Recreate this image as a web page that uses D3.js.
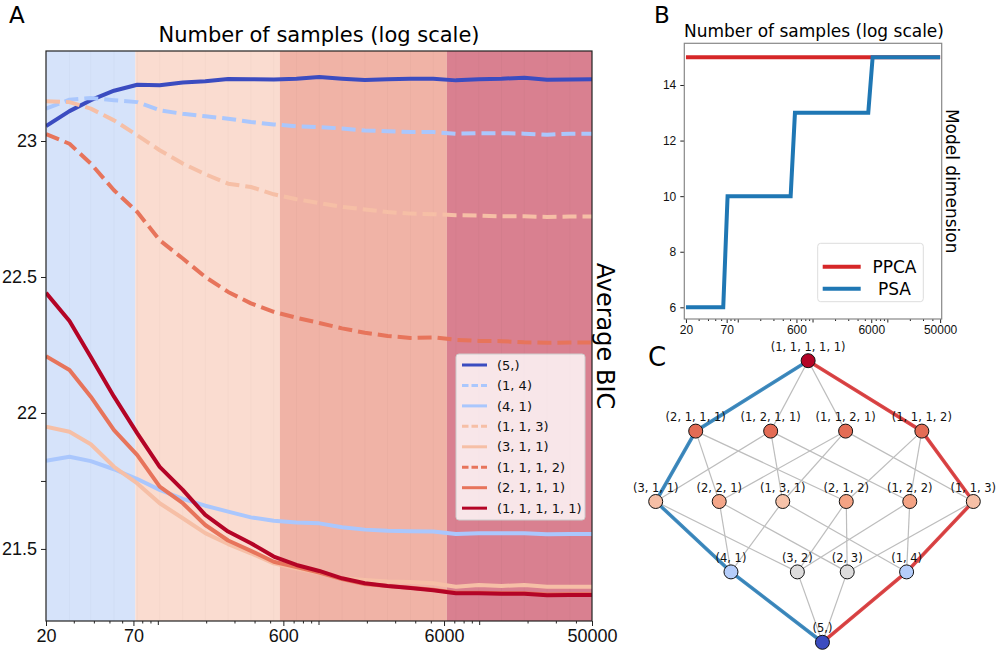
<!DOCTYPE html>
<html lang="en">
<head>
<meta charset="UTF-8">
<title>Average BIC and model dimension</title>
<script src="https://d3js.org/d3.v7.min.js"></script>
<style>
  body { margin: 0; background: #fff; }
  svg { display: block; font-family: "DejaVu Sans", sans-serif; }
  .tick text { fill: #111; }
  .tick line { stroke: #222; }
</style>
</head>
<body>
<div id="chart"></div>
<script>
// ---------- panel A: average BIC per flag type ----------
const samples = [20, 28, 38, 53, 74, 102, 142, 196, 272, 377, 523, 724, 1004, 1391, 1929,
                 2673, 3705, 5135, 7117, 9864, 13672, 18950, 26264, 36402, 50000];
const bandEdges = [20, 72, 570, 6250, 50000];

const bic5 = [23.055, 23.11, 23.15, 23.185, 23.207, 23.205, 23.215, 23.22, 23.228, 23.227, 23.226, 23.229, 23.235,
              23.229, 23.224, 23.227, 23.229, 23.229, 23.223, 23.227, 23.229, 23.233, 23.225, 23.226, 23.227];
const bic14 = [23.119, 23.152, 23.158, 23.15, 23.143, 23.113, 23.10, 23.091, 23.082, 23.07, 23.061, 23.054, 23.051,
               23.046, 23.039, 23.036, 23.033, 23.033, 23.027, 23.029, 23.029, 23.027, 23.023, 23.027, 23.027];
const bic41 = [21.824, 21.839, 21.823, 21.793, 21.757, 21.717, 21.684, 21.659, 21.637, 21.616, 21.604, 21.597, 21.594,
               21.58, 21.571, 21.567, 21.565, 21.564, 21.555, 21.558, 21.558, 21.558, 21.554, 21.555, 21.555];
const bic113 = [23.146, 23.143, 23.119, 23.076, 23.021, 22.966, 22.917, 22.878, 22.843, 22.831, 22.804, 22.786, 22.772,
                22.758, 22.748, 22.739, 22.733, 22.731, 22.727, 22.726, 22.723, 22.723, 22.721, 22.722, 22.722];
const bic311 = [21.949, 21.931, 21.885, 21.802, 21.741, 21.668, 21.613, 21.558, 21.518, 21.484, 21.447, 21.428, 21.411,
                21.392, 21.386, 21.38, 21.378, 21.374, 21.361, 21.367, 21.364, 21.367, 21.361, 21.361, 21.361];
const bic1112 = [23.025, 22.99, 22.917, 22.819, 22.739, 22.635, 22.568, 22.50, 22.445, 22.403, 22.372, 22.35, 22.331,
                 22.311, 22.295, 22.283, 22.276, 22.278, 22.269, 22.265, 22.264, 22.26, 22.258, 22.259, 22.259];
const bic2111 = [22.209, 22.158, 22.06, 21.937, 21.845, 21.729, 21.668, 21.588, 21.531, 21.493, 21.453, 21.433, 21.413,
                 21.389, 21.371, 21.364, 21.357, 21.35, 21.339, 21.339, 21.337, 21.337, 21.332, 21.333, 21.333];
const bic11111 = [22.442, 22.338, 22.206, 22.06, 21.925, 21.802, 21.717, 21.625, 21.564, 21.521, 21.472, 21.441, 21.419,
                  21.392, 21.374, 21.364, 21.356, 21.348, 21.337, 21.337, 21.335, 21.335, 21.33, 21.331, 21.331];

const seriesNames = ["(5,)", "(1, 4)", "(4, 1)", "(1, 1, 3)", "(3, 1, 1)", "(1, 1, 1, 2)", "(2, 1, 1, 1)", "(1, 1, 1, 1, 1)"];
const seriesValues = [bic5, bic14, bic41, bic113, bic311, bic1112, bic2111, bic11111];

const xTicks = [20, 70, 600, 6000, 50000];
const yTicksA = [21.5, 21.75, 22, 22.5, 23];

// ---------- panel B: model dimension ----------
const psaSamples = [20, 63, 72, 502, 573, 5475, 6265, 50000];
const psaDim = [6, 6, 10, 10, 13, 13, 15, 15];
const ppcaSamples = [20, 50000];
const ppcaDim = [15, 15];
const yTicksB = [6, 8, 10, 12, 14];

// ---------- panel C: hierarchy of flag types ----------
const nodeTypes = [[1,1,1,1,1],
                   [2,1,1,1], [1,2,1,1], [1,1,2,1], [1,1,1,2],
                   [3,1,1], [2,2,1], [1,3,1], [2,1,2], [1,2,2], [1,1,3],
                   [4,1], [3,2], [2,3], [1,4],
                   [5]];
// horizontal place of each node in layout units (0-100), same order as nodeTypes
const nodeSlot = [48, 12.6, 36.2, 59.8, 83.8, 0, 20, 40, 60, 80, 100, 23.7, 44.6, 60.3, 79, 52.5];
const bluePath = ["(1, 1, 1, 1, 1)", "(2, 1, 1, 1)", "(3, 1, 1)", "(4, 1)", "(5,)"];
const redPath = ["(1, 1, 1, 1, 1)", "(1, 1, 1, 2)", "(1, 1, 3)", "(1, 4)", "(5,)"];

// ---------- styles ----------
const lineColor = {
  "(5,)": "#3b4cc0", "(1, 4)": "#aac7fd", "(4, 1)": "#aac7fd",
  "(1, 1, 3)": "#f6bfa6", "(3, 1, 1)": "#f6bfa6",
  "(1, 1, 1, 2)": "#e7745b", "(2, 1, 1, 1)": "#e7745b", "(1, 1, 1, 1, 1)": "#b40426"
};
const dashed = {"(1, 4)": true, "(1, 1, 3)": true, "(1, 1, 1, 2)": true};
const nodeColor = {
  "(1, 1, 1, 1, 1)": "#b40426",
  "(2, 1, 1, 1)": "#e36c55", "(1, 2, 1, 1)": "#e36c55", "(1, 1, 2, 1)": "#e36c55", "(1, 1, 1, 2)": "#e36c55",
  "(3, 1, 1)": "#f6bfa6", "(2, 2, 1)": "#f4a689", "(1, 3, 1)": "#f6c2a9",
  "(2, 1, 2)": "#f4a384", "(1, 2, 2)": "#f4a384", "(1, 1, 3)": "#f6bfa6",
  "(4, 1)": "#b5cdfa", "(3, 2)": "#dddcdc", "(2, 3)": "#dddcdc", "(1, 4)": "#b5cdfa",
  "(5,)": "#3b4cc0"
};
const bandColors = ["#d6e3fa", "#fadcd0", "#f0b3a6", "#d98090"];

const fmtType = p => p.length === 1 ? "(" + p[0] + ",)" : "(" + p.join(", ") + ")";

const svg = d3.select("#chart").append("svg")
    .attr("width", 996)
    .attr("height", 650);

function minorTicks(lo, hi) {
  const out = [];
  for (let dec = 10; dec <= 10000; dec *= 10) {
    for (let m = 1; m <= 9; m++) {
      const v = m * dec;
      if (v > lo && v < hi && !xTicks.includes(v)) out.push(v);
    }
  }
  return out;
}

// ================= panel A =================
const A = {left: 46, right: 592, top: 51, bottom: 621};
const xA = d3.scaleLog().domain([20, 50000]).range([A.left, A.right]);
const yA = d3.scaleLinear().domain([21.235, 23.331]).range([A.bottom, A.top]);

const gA = svg.append("g");

gA.append("g").selectAll("rect")
  .data(d3.pairs(bandEdges))
  .enter().append("rect")
    .attr("x", d => xA(d[0]))
    .attr("y", A.top)
    .attr("width", d => xA(d[1]) - xA(d[0]))
    .attr("height", A.bottom - A.top)
    .attr("fill", (d, i) => bandColors[i]);

// faint sample grid inside the bands
gA.append("g").selectAll("line")
  .data(samples.slice(1, -1))
  .enter().append("line")
    .attr("x1", d => xA(d)).attr("x2", d => xA(d))
    .attr("y1", A.top).attr("y2", A.bottom)
    .attr("stroke", "#000").attr("stroke-opacity", 0.025);

svg.append("clipPath").attr("id", "clipA")
  .append("rect").attr("x", A.left).attr("y", A.top)
  .attr("width", A.right - A.left).attr("height", A.bottom - A.top);

const lineA = d3.line().x(d => xA(d[0])).y(d => yA(d[1]));

gA.append("g").attr("clip-path", "url(#clipA)")
  .selectAll("path")
  .data(seriesNames)
  .enter().append("path")
    .attr("d", (name, i) => lineA(d3.zip(samples, seriesValues[i])))
    .attr("fill", "none")
    .attr("stroke", name => lineColor[name])
    .attr("stroke-width", 4)
    .attr("stroke-linejoin", "round")
    .attr("stroke-dasharray", name => dashed[name] ? "14,6" : null);

// axes
const axA_left = gA.append("g")
    .attr("transform", `translate(${A.left},0)`)
    .call(d3.axisLeft(yA).tickValues(yTicksA).tickSize(5).tickPadding(4)
      .tickFormat(d => d === 21.75 ? "" : d3.format("~g")(d)));
axA_left.select(".domain").remove();
axA_left.selectAll("text").style("font-size", "18px");

const axA_bottom = gA.append("g")
    .attr("transform", `translate(0,${A.bottom})`)
    .call(d3.axisBottom(xA).tickValues(xTicks).tickSize(5).tickPadding(3).tickFormat(d3.format("d")));
axA_bottom.select(".domain").remove();
axA_bottom.selectAll("text").style("font-size", "18px");

gA.append("g").selectAll("line")
  .data(minorTicks(20, 50000))
  .enter().append("line")
    .attr("x1", d => xA(d)).attr("x2", d => xA(d))
    .attr("y1", A.bottom)
    .attr("y2", d => A.bottom + (Math.log10(d) % 1 === 0 ? 4 : 2.5))
    .attr("stroke", "#222");

gA.append("rect")
  .attr("x", A.left).attr("y", A.top)
  .attr("width", A.right - A.left).attr("height", A.bottom - A.top)
  .attr("fill", "none").attr("stroke", "#222").attr("stroke-width", 1.2);

gA.append("text")
  .attr("x", (A.left + A.right) / 2).attr("y", 42)
  .attr("text-anchor", "middle")
  .style("font-size", "21px")
  .text("Number of samples (log scale)");

gA.append("text")
  .attr("transform", `translate(597,${(A.top + A.bottom) / 2}) rotate(90)`)
  .attr("text-anchor", "middle")
  .style("font-size", "24px")
  .text("Average BIC");

gA.append("text").attr("x", 9).attr("y", 23).style("font-size", "23px").text("A");

// legend A
const legA = gA.append("g").attr("transform", "translate(456,354)");
legA.append("rect")
  .attr("width", 129).attr("height", 166).attr("rx", 3)
  .attr("fill", "#fff").attr("fill-opacity", 0.8)
  .attr("stroke", "#ccc");
const legRows = legA.selectAll("g.row")
  .data(seriesNames)
  .enter().append("g")
    .attr("class", "row")
    .attr("transform", (d, i) => `translate(0,${11 + i * 20.45})`);
legRows.append("line")
  .attr("x1", 6).attr("x2", 31)
  .attr("stroke", d => lineColor[d])
  .attr("stroke-width", 3)
  .attr("stroke-dasharray", d => dashed[d] ? "6.5,3" : null);
legRows.append("text")
  .attr("x", 41).attr("y", 4.6)
  .style("font-size", "13px")
  .attr("fill", "#111")
  .text(d => d);

// ================= panel B =================
const B = {left: 684.3, right: 941.7, top: 43.3, bottom: 319};
const xB = d3.scaleLog().domain([19, 52500]).range([B.left, B.right]);
const yB = d3.scaleLinear().domain([5.58, 15.5]).range([B.bottom, B.top]);
const gB = svg.append("g");

const lineB = d3.line().x(d => xB(d[0])).y(d => yB(d[1]));
gB.append("path")
  .attr("d", lineB(d3.zip(ppcaSamples, ppcaDim)))
  .attr("fill", "none").attr("stroke", "#d62728").attr("stroke-width", 4);
gB.append("path")
  .attr("d", lineB(d3.zip(psaSamples, psaDim)))
  .attr("fill", "none").attr("stroke", "#1f77b4").attr("stroke-width", 4);

const axB_left = gB.append("g")
    .attr("transform", `translate(${B.left},0)`)
    .call(d3.axisLeft(yB).tickValues(yTicksB).tickSize(4).tickPadding(4));
axB_left.select(".domain").remove();
axB_left.selectAll("text").style("font-size", "12px");

const axB_bottom = gB.append("g")
    .attr("transform", `translate(0,${B.bottom})`)
    .call(d3.axisBottom(xB).tickValues(xTicks).tickSize(4).tickPadding(2).tickFormat(d3.format("d")));
axB_bottom.select(".domain").remove();
axB_bottom.selectAll("text").style("font-size", "12px");

gB.append("g").selectAll("line")
  .data(minorTicks(19, 52500))
  .enter().append("line")
    .attr("x1", d => xB(d)).attr("x2", d => xB(d))
    .attr("y1", B.bottom)
    .attr("y2", d => B.bottom + (Math.log10(d) % 1 === 0 ? 3.5 : 2))
    .attr("stroke", "#222");

gB.append("rect")
  .attr("x", B.left).attr("y", B.top)
  .attr("width", B.right - B.left).attr("height", B.bottom - B.top)
  .attr("fill", "none").attr("stroke", "#888").attr("stroke-width", 1.2);

gB.append("text")
  .attr("x", (B.left + B.right) / 2 + 1).attr("y", 37)
  .attr("text-anchor", "middle")
  .style("font-size", "17px")
  .text("Number of samples (log scale)");

gB.append("text")
  .attr("transform", `translate(946,${(B.top + B.bottom) / 2}) rotate(90)`)
  .attr("text-anchor", "middle")
  .style("font-size", "17px")
  .text("Model dimension");

gB.append("text").attr("x", 654).attr("y", 23).style("font-size", "23px").text("B");

const legB = gB.append("g").attr("transform", "translate(817.7,243.3)");
legB.append("rect")
  .attr("width", 105.6).attr("height", 58.4).attr("rx", 3)
  .attr("fill", "#fff").attr("stroke", "#ddd");
[["PPCA", "#d62728"], ["PSA", "#1f77b4"]].forEach(([label, col], i) => {
  const y = 23.4 + i * 22;
  legB.append("line").attr("x1", 5).attr("x2", 43).attr("y1", y).attr("y2", y)
    .attr("stroke", col).attr("stroke-width", 4);
  legB.append("text").attr("x", 76.8).attr("y", y + 6)
    .attr("text-anchor", "middle").style("font-size", "17px").text(label);
});

// ================= panel C =================
const nodes = nodeTypes.map((p, i) => ({
  parts: p, label: fmtType(p), level: 5 - p.length, slot: nodeSlot[i]
}));
const byLabel = new Map(nodes.map(n => [n.label, n]));

// an edge joins a type to each type made by merging two neighbouring parts
const edges = [];
nodes.forEach(n => {
  for (let i = 0; i < n.parts.length - 1; i++) {
    const merged = n.parts.slice(0, i).concat([n.parts[i] + n.parts[i + 1]], n.parts.slice(i + 2));
    edges.push([n, byLabel.get(fmtType(merged))]);
  }
});

const xC = d3.scaleLinear().domain([0, 100]).range([655.7, 973.3]);
const yC = d3.scaleLinear().domain([0, 4]).range([360.7, 642.3]);
const gC = svg.append("g");

gC.append("g").selectAll("line")
  .data(edges)
  .enter().append("line")
    .attr("x1", d => xC(d[0].slot)).attr("y1", d => yC(d[0].level))
    .attr("x2", d => xC(d[1].slot)).attr("y2", d => yC(d[1].level))
    .attr("stroke", "#bdbdbd").attr("stroke-width", 1.2);

const pathLine = d3.line().x(d => xC(byLabel.get(d).slot)).y(d => yC(byLabel.get(d).level));
gC.append("path").attr("d", pathLine(bluePath))
  .attr("fill", "none").attr("stroke", "#1f77b4").attr("stroke-opacity", 0.85).attr("stroke-width", 3.6);
gC.append("path").attr("d", pathLine(redPath))
  .attr("fill", "none").attr("stroke", "#d62728").attr("stroke-opacity", 0.85).attr("stroke-width", 3.6);

gC.append("g").selectAll("text")
  .data(nodes)
  .enter().append("text")
    .attr("x", d => xC(d.slot))
    .attr("y", d => yC(d.level) - 10)
    .attr("text-anchor", "middle")
    .style("font-size", "11.5px")
    .attr("fill", "#111")
    .text(d => d.label);

gC.append("g").selectAll("circle")
  .data(nodes)
  .enter().append("circle")
    .attr("cx", d => xC(d.slot))
    .attr("cy", d => yC(d.level))
    .attr("r", 7)
    .attr("fill", d => nodeColor[d.label])
    .attr("stroke", "#111").attr("stroke-width", 1);

gC.append("text").attr("x", 648).attr("y", 366).style("font-size", "26px").text("C");
</script>
</body>
</html>
